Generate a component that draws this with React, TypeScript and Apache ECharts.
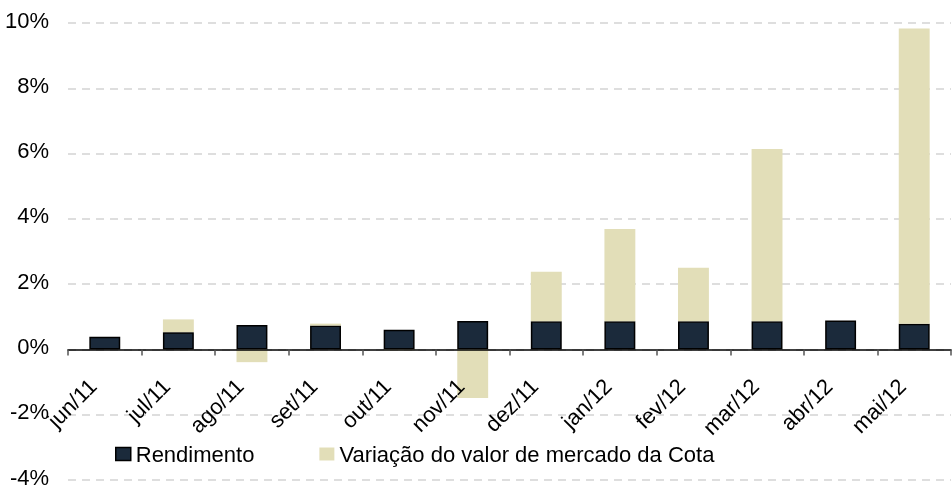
import React, { useEffect, useRef } from "react";
import * as echarts from "echarts";

const categories = ["jun/11", "jul/11", "ago/11", "set/11", "out/11", "nov/11", "dez/11", "jan/12", "fev/12", "mar/12", "abr/12", "mai/12"];
const rendimento = [0.39, 0.53, 0.75, 0.73, 0.6, 0.87, 0.86, 0.86, 0.86, 0.86, 0.89, 0.79];
const variacao = [0, 0.39, -0.39, 0.06, -0.03, -1.49, 1.52, 2.83, 1.64, 5.28, 0, 9.04];
const yTicks = { min: -4, max: 10, interval: 2 };

const FONT = "'Liberation Sans', Arial, sans-serif";
const GRID_TOP = 23;
const GRID_BOTTOM = 7;
const H = 487;

export default function App() {
  const ref = useRef<HTMLDivElement>(null);
  useEffect(() => {
    if (!ref.current) return;
    const chart = echarts.init(ref.current, null, { renderer: "svg" });
    const plotH = H - GRID_TOP - GRID_BOTTOM;
    const zeroFromBottom = (plotH * (0 - yTicks.min)) / (yTicks.max - yTicks.min);
    chart.setOption({
      animation: false,
      textStyle: { fontFamily: FONT },
      grid: { left: 68, right: 1, top: GRID_TOP, bottom: GRID_BOTTOM, containLabel: false, outerBoundsMode: "none" },
      legend: {
        left: 115,
        top: 443,
        padding: 0,
        itemWidth: 15,
        itemHeight: 13,
        itemGap: 65,
        textStyle: { fontSize: 22, color: "#000", fontFamily: FONT },
        data: [
          { name: "Rendimento", icon: "rect", itemStyle: { color: "#1b2a3b", borderColor: "#000", borderWidth: 1.5 } },
          { name: "Variação do valor de mercado da Cota", icon: "rect", itemStyle: { color: "#e2deb8", borderWidth: 0 } },
        ],
      },
      xAxis: {
        type: "category",
        data: categories,
        offset: -zeroFromBottom,
        axisLine: { onZero: false, lineStyle: { color: "#000", width: 1.5 } },
        axisTick: { show: true, length: 6, lineStyle: { color: "#555", width: 1.5 } },
        axisLabel: { rotate: 45, margin: 21, fontSize: 22, color: "#000", fontFamily: FONT, padding: [0, 17, 0, 0] },
        splitLine: { show: false },
        z: 5,
      },
      yAxis: {
        type: "value",
        min: yTicks.min,
        max: yTicks.max,
        interval: yTicks.interval,
        axisLine: { show: false },
        axisTick: { show: false },
        axisLabel: {
          formatter: "{value}%",
          fontSize: 22,
          color: "#000",
          margin: 19,
          fontFamily: FONT,
          verticalAlign: "bottom",
          lineHeight: 6,
        },
        splitLine: { show: true, lineStyle: { color: "#d4d4d4", type: [8, 6], width: 1.5 } },
      },
      series: [
        {
          name: "Rendimento",
          type: "bar",
          stack: "total",
          data: rendimento,
          barWidth: "42%",
          itemStyle: { color: "#1b2a3b", borderColor: "#000", borderWidth: 1.5 },
        },
        {
          name: "Variação do valor de mercado da Cota",
          type: "bar",
          stack: "total",
          data: variacao,
          barWidth: "42%",
          itemStyle: { color: "#e2deb8" },
        },
      ],
    });
    return () => chart.dispose();
  }, []);
  return <div ref={ref} style={{ position: "fixed", left: 0, top: 0, width: 952, height: H }} />;
}
